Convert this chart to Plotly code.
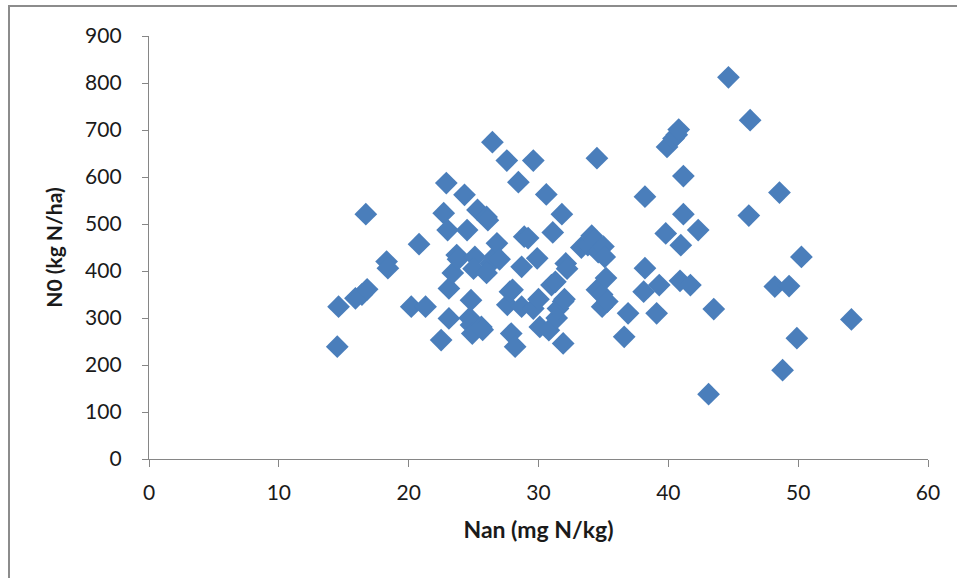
import plotly.graph_objects as go

nan_mg = [14.5, 14.6, 15.9, 16.4, 16.8, 16.7, 18.3, 18.4, 20.2, 20.8, 21.3, 22.5, 22.7, 22.9, 23.1, 23.1,
          23.0, 23.4, 23.7, 23.8, 24.3, 24.5, 24.7, 24.8, 24.8, 24.9, 25.1, 25.0, 25.3, 25.6, 25.7,
          26.0, 26.1, 26.3, 26.0, 26.45, 26.6, 26.8, 27.0, 27.6, 27.8, 27.56, 27.9, 28.0, 28.2, 28.7,
          28.45, 28.7, 28.9, 29.2, 29.6, 29.6, 29.9, 30.0, 30.1, 30.6, 30.8, 31.0, 31.1, 31.3, 31.4,
          31.5, 31.9, 31.8, 31.9, 32.0, 32.1, 32.2, 33.3, 33.8, 34.1, 34.3, 34.5, 34.5, 34.6, 34.9,
          34.9, 35.0, 35.1, 35.2, 35.3, 36.6, 36.9, 38.2, 38.2, 38.1, 39.1, 39.3, 39.8, 39.9, 40.4,
          40.65, 40.8, 40.9, 40.96, 41.16, 41.16, 41.7, 42.3, 43.1, 43.5, 44.63, 46.2, 46.3, 48.2,
          48.56, 48.8, 49.3, 49.9, 50.25, 54.1]
n0_kg = [239, 324, 342, 350, 361, 521, 420, 406, 324, 457, 324, 253, 523, 587, 363, 299,
         487, 396, 434, 425, 562, 487, 300, 338, 285, 267, 430, 405, 530, 281, 275,
         515, 508, 416, 396, 674, 430, 459, 425, 328, 356, 635, 267, 360, 239, 324,
         589, 409, 473, 470, 635, 320, 427, 340, 281, 563, 274, 370, 482, 377, 300,
         320, 335, 521, 246, 340, 416, 405, 450, 455, 475, 466, 360, 640, 440, 324,
         350, 452, 430, 385, 335, 260, 310, 406, 558, 356, 310, 370, 480, 664, 682,
         690, 701, 379, 455, 602, 521, 370, 487, 138, 319, 812, 518, 721, 367,
         567, 189, 368, 257, 430, 297]

x_ticks = [0, 10, 20, 30, 40, 50, 60]
y_ticks = [0, 100, 200, 300, 400, 500, 600, 700, 800, 900]

axis_color = "#868686"
text_color = "#1a1a1a"
font_family = "Lato, Carlito, 'Liberation Sans', sans-serif"

fig = go.Figure()
fig.add_trace(go.Scatter(
    x=nan_mg, y=n0_kg, mode="markers",
    marker=dict(symbol="diamond", size=17.5, color="#4A7EBB",
                line=dict(width=0)),
    showlegend=False, hoverinfo="x+y",
))

fig.update_layout(
    width=957, height=578,
    margin=dict(l=149, r=29, t=36, b=119),
    paper_bgcolor="white", plot_bgcolor="white",
    font=dict(family=font_family, color=text_color),
    xaxis=dict(
        range=[0, 60], tickvals=x_ticks, ticktext=[str(v) for v in x_ticks],
        showgrid=False, zeroline=False, showline=True, linecolor=axis_color, linewidth=1.3,
        ticks="outside", ticklen=7, tickcolor=axis_color, tickwidth=1.3,
        tickfont=dict(size=21, family=font_family, color=text_color),
        ticklabelstandoff=8,
        title=dict(text="<b>Nan (mg N/kg)</b>", font=dict(size=23, family=font_family, color=text_color),
                   standoff=18),
        fixedrange=True,
    ),
    yaxis=dict(
        range=[0, 900], tickvals=y_ticks, ticktext=[str(v) for v in y_ticks],
        showgrid=False, zeroline=False, showline=True, linecolor=axis_color, linewidth=1.3,
        ticks="outside", ticklen=6, tickcolor=axis_color, tickwidth=1.3,
        tickfont=dict(size=21, family=font_family, color=text_color),
        ticklabelstandoff=16,
        title=dict(text="<b>N0 (kg N/ha)</b>", font=dict(size=21, family=font_family, color=text_color),
                   standoff=16),
        fixedrange=True,
    ),
    shapes=[dict(type="rect", xref="paper", yref="paper",
                 x0=-140/779, x1=1.2, y0=-0.5, y1=(459 - 6) / 423,
                 line=dict(color="#8c8c8c", width=2), fillcolor="rgba(0,0,0,0)", layer="below")],
)

fig.write_html("out.html", config={"displayModeBar": False},
               post_script="document.body.style.margin='0';document.body.style.overflow='hidden';")
